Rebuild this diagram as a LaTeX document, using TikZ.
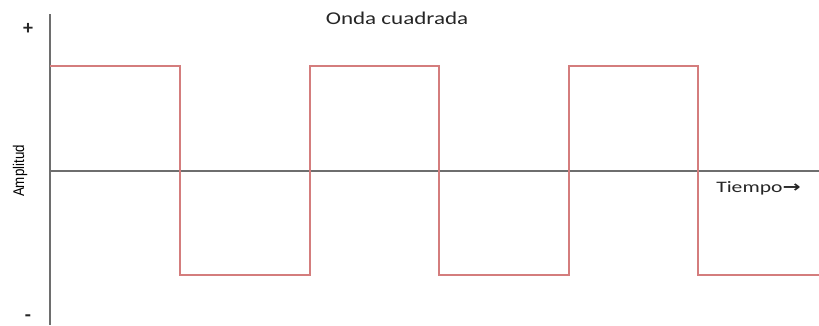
\documentclass[tikz,border=0pt]{standalone}
\usepackage{fontspec}
\setmainfont{Carlito}
\newfontfamily\narrowfont{Liberation Sans}
\newfontfamily\arrowfont{DejaVu Sans}
\definecolor{axisgray}{RGB}{110,110,110}
\definecolor{wavered}{RGB}{212,125,125}
\tikzset{
  axisline/.style={draw=axisgray, line width=1.2pt},
  waveline/.style={draw=wavered, line width=2.4pt, line join=miter},
  lbl/.style={inner sep=0pt, text=black!85}
}
\begin{document}
\begin{tikzpicture}[x=1pt,y=-1pt]
\useasboundingbox (0,0) rectangle (819,325);
% axes
\coordinate (ytop) at (50,14);
\coordinate (ybot) at (50,325);
\coordinate (xl) at (50,171);
\coordinate (xr) at (819,171);
\draw[axisline] (ytop) -- (ybot);
\draw[axisline] (xl) -- (xr);
% square wave
\draw[waveline] (50,66) -- (180,66) -- (180,275) -- (310,275) -- (310,66) -- (439,66) -- (439,275) -- (569,275) -- (569,66) -- (698,66) -- (698,275) -- (819,275);
% labels
\node[lbl, font=\fontsize{18}{20}\selectfont, xscale=1.28] (title) at (397,18) {Onda cuadrada};
\node[lbl, font=\fontsize{16}{18}\selectfont, xscale=1.35, anchor=west] (time) at (716,188) {Tiempo{\arrowfont\bfseries →}};
\node[lbl, font=\narrowfont\fontsize{15.5}{17}\selectfont, rotate=90, xscale=0.86, text=black] (amp) at (20,171) {Amplitud};
\node[lbl, font=\bfseries\fontsize{20}{22}\selectfont] (plus) at (28,29) {+};
\node[lbl, font=\bfseries\fontsize{20}{22}\selectfont] (minus) at (28,318) {-};
\end{tikzpicture}
\end{document}
